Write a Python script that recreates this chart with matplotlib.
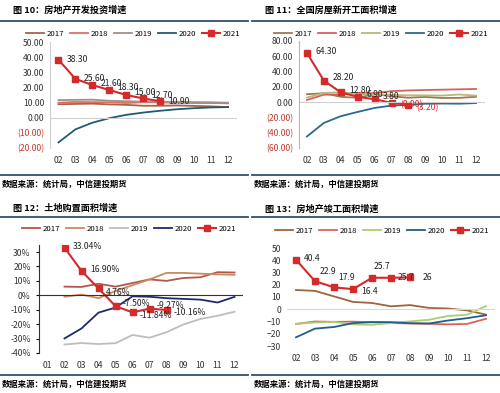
import numpy as np
import matplotlib
matplotlib.use('Agg')
import matplotlib.pyplot as plt

plt.rcParams['font.family'] = ['Noto Sans CJK SC', 'DejaVu Sans']

years = ['2017', '2018', '2019', '2020', '2021']
months = [2, 3, 4, 5, 6, 7, 8, 9, 10, 11, 12]
months21 = [2, 3, 4, 5, 6, 7, 8]

# fig 10: investment growth
inv17 = [8.9, 9.1, 9.3, 8.8, 8.5, 7.9, 7.9, 8.1, 7.8, 7.5, 7.0]
inv18 = [9.9, 10.4, 10.3, 10.2, 9.7, 10.2, 10.1, 9.9, 9.7, 9.7, 9.5]
inv19 = [11.6, 11.8, 11.9, 11.2, 10.9, 10.6, 10.5, 10.5, 10.3, 10.2, 9.9]
inv20 = [-16.3, -7.7, -3.3, -0.3, 1.9, 3.4, 4.6, 5.6, 6.3, 6.8, 7.0]
inv21 = [38.3, 25.6, 21.6, 18.3, 15.0, 12.7, 10.9]

# fig 11: new starts area
new17 = [10.4, 11.6, 7.0, 5.6, 10.6, 7.6, 5.8, 6.8, 5.4, 5.6, 7.0]
new18 = [2.9, 9.7, 10.3, 11.8, 11.8, 14.4, 15.3, 15.9, 16.3, 16.8, 17.2]
new19 = [6.0, 11.9, 13.1, 10.5, 10.1, 9.5, 9.0, 8.9, 8.6, 10.0, 8.5]
new20 = [-44.9, -27.2, -18.4, -12.8, -7.6, -4.5, -3.6, -2.0, -1.8, -2.0, -1.2]
new21 = [64.3, 28.2, 12.8, 6.9, 3.8, -0.9, -3.2]

# fig 12: land purchase area
land17 = [6.0, 5.8, 8.0, 6.0, 8.5, 11.0, 10.0, 12.0, 12.5, 16.0, 15.8]
land18 = [-1.0, 0.5, -2.0, 3.0, 7.0, 11.0, 15.5, 15.5, 15.0, 14.5, 14.2]
land19 = [-34.1, -33.1, -33.8, -33.2, -27.5, -29.4, -25.6, -20.2, -16.4, -14.2, -11.4]
land20 = [-29.9, -23.0, -12.0, -8.5, -0.7, -1.0, -2.0, -2.5, -3.0, -5.0, -1.1]
land21 = [33.04, 16.90, 4.76, -7.50, -11.84, -9.27, -10.16]

# fig 13: completed area
fin17 = [15.7, 15.0, 10.5, 6.0, 5.1, 2.4, 3.4, 1.1, 0.6, -0.9, -4.4]
fin18 = [-12.0, -10.0, -10.3, -10.1, -10.6, -11.3, -11.6, -11.9, -12.3, -12.0, -7.8]
fin19 = [-11.9, -10.8, -10.3, -12.4, -12.7, -11.3, -9.9, -8.6, -5.5, -4.5, 2.6]
fin20 = [-22.9, -15.8, -14.5, -11.3, -10.5, -10.5, -11.4, -11.6, -9.2, -7.3, -4.9]
fin21 = [40.4, 22.9, 17.9, 16.4, 25.7, 25.7, 26.0]

titles = ['图 10：房地产开发投资增速', '图 11：全国房屋新开工面积增速',
          '图 12：土地购置面积增速', '图 13：房地产竣工面积增速']
source = '数据来源：统计局，中信建投期货'

W, H = 500, 393
fig = plt.figure(figsize=(W / 100, H / 100), dpi=100)
red = '#D42A2A'
navy = '#2F4F6F'


def px(x0, y0, x1, y1):
    return [x0 / W, 1 - y1 / H, (x1 - x0) / W, (y1 - y0) / H]


def frame(x0, x1, ytitle, yline, ybot, title):
    fig.text(x0 + 13 / W, 1 - ytitle / H, title, fontsize=6.6, fontweight='bold', va='center')
    fig.add_artist(plt.Line2D([x0, x1], [1 - yline / H] * 2, color=navy, lw=1.3))
    fig.add_artist(plt.Line2D([x0, x1], [1 - ybot / H] * 2, color=navy, lw=1.3))
    fig.text(x0 + 2 / W, 1 - (ybot + 9) / H, source, fontsize=6, fontweight='bold',
             style='italic', va='center')


def panel(ax, xs, series, colors, s21, labels, offs, lab_colors, leg_xy):
    for vals, c, y in zip(series, colors, years[:4]):
        ax.plot(xs, vals, color=c, lw=1.3, label=y)
    ax.plot(months21, s21, color=red, lw=1.5, marker='s', ms=5, label='2021')
    for x, v, t, o, lc in zip(months21, s21, labels, offs, lab_colors):
        ax.annotate(t, (x, v), xytext=o, textcoords='offset points', fontsize=6.2,
                    color=lc, va='center')
    for s in ['top', 'right', 'bottom']:
        ax.spines[s].set_visible(False)
    ax.tick_params(axis='both', labelsize=6.2, length=0, pad=4, labelcolor='#333333')
    ax.tick_params(axis='x', pad=6)
    ax.legend(loc='center', bbox_to_anchor=(leg_xy[0] / W, 1 - leg_xy[1] / H),
              bbox_transform=fig.transFigure, ncol=5, frameon=False,
              fontsize=5.6, handlelength=2.3, columnspacing=0.7, handletextpad=0.4,
              borderaxespad=0, borderpad=0)


# panel 1
frame(0, 0.496, 10, 21, 175, titles[0])
ax1 = fig.add_axes(px(50, 42, 236.5, 148))
panel(ax1, months, [inv17, inv18, inv19, inv20], ['#A5634A', '#E0705E', '#A39089', '#1F5C73'],
      inv21, ['38.30', '25.60', '21.60', '18.30', '15.00', '12.70', '10.90'],
      [(6, 0), (6, 0), (6, 1), (6, 2), (6, 2), (6, 2), (6, 0)], ['#222222'] * 7, (133, 34))
ax1.set_xlim(1.5, 12.5)
ax1.set_ylim(-20, 50)
ax1.set_yticks(np.arange(-20, 51, 10))
ax1.set_yticklabels(['(%.2f)' % -v if v < 0 else '%.2f' % v for v in np.arange(-20, 51, 10)])
for t, v in zip(ax1.get_yticklabels(), np.arange(-20, 51, 10)):
    if v < 0:
        t.set_color('#C0392B')
ax1.axhline(0, color='#D0D0D0', lw=0.8)
ax1.spines['left'].set_color('#D0D0D0')
ax1.set_xticks(months)
ax1.set_xticklabels(['%02d' % m for m in months])

# panel 2
frame(0.504, 1.0, 10, 21, 175, titles[1])
ax2 = fig.add_axes(px(298.5, 41, 484.5, 148))
panel(ax2, months, [new17, new18, new19, new20], ['#A07850', '#D9605A', '#B8B87A', '#2A6A8A'],
      new21, ['64.30', '28.20', '12.80', '6.90', '3.80', '(0.90)', '(3.20)'],
      [(6, 1), (6, 2), (6, 1), (6, 2), (6, 2), (6, -1), (6, -2)],
      ['#222222'] * 5 + ['#D42A2A'] * 2, (381, 34))
ax2.set_xlim(1.5, 12.5)
ax2.set_ylim(-60, 80)
yt2 = np.arange(-60, 81, 20)
ax2.set_yticks(yt2)
ax2.set_yticklabels(['(%.2f)' % -v if v < 0 else '%.2f' % v for v in yt2])
for t, v in zip(ax2.get_yticklabels(), yt2):
    if v < 0:
        t.set_color('#C0392B')
ax2.axhline(0, color='#D0D0D0', lw=0.8)
ax2.spines['left'].set_color('#E8A0A0')
ax2.set_xticks(months)
ax2.set_xticklabels(['%02d' % m for m in months])

# panel 3
frame(0, 0.496, 208, 217, 375, titles[2])
ax3 = fig.add_axes(px(39, 244.8, 243, 353))
panel(ax3, months, [land17, land18, land19, land20], ['#B5564C', '#C98A60', '#BDBDBD', '#1F2A6B'],
      land21, ['33.04%', '16.90%', '4.76%', '-7.50%', '-11.84%', '-9.27%', '-10.16%'],
      [(6, 1), (6, 1), (5, -3), (5, 2), (5, -2), (5, 2), (5, -2)], ['#222222'] * 7, (129, 229))
ax3.set_xlim(0.5, 12.5)
ax3.set_ylim(-40, 35)
yt3 = np.arange(-40, 31, 10)
ax3.set_yticks(yt3)
ax3.set_yticklabels(['%d%%' % v for v in yt3])
ax3.axhline(0, color='#333333', lw=0.8)
ax3.spines['left'].set_color('#333333')
ax3.tick_params(axis='y', length=2)
ax3.set_xticks(range(1, 13))
ax3.set_xticklabels(['%02d' % m for m in range(1, 13)])

# panel 4
frame(0.504, 1.0, 209, 217, 375, titles[3])
ax4 = fig.add_axes(px(286.5, 248, 495.5, 346))
panel(ax4, months, [fin17, fin18, fin19, fin20], ['#A0643C', '#E0605A', '#A8D070', '#1F5F8B'],
      fin21, ['40.4', '22.9', '17.9', '16.4', '25.7', '25.7', '26'],
      [(6, 1), (3, 7), (3, 7), (6, -2), (1, 8), (5, 0), (9, 0)], ['#222222'] * 7, (382, 231))
ax4.set_xlim(1.5, 12.5)
ax4.set_ylim(-30, 50)
ax4.set_yticks(np.arange(-30, 51, 10))
ax4.axhline(0, color='#D8D8D8', lw=0.8)
ax4.spines['left'].set_visible(False)
ax4.set_xticks(months)
ax4.set_xticklabels(['%02d' % m for m in months])

fig.savefig('out.png', dpi=100)
